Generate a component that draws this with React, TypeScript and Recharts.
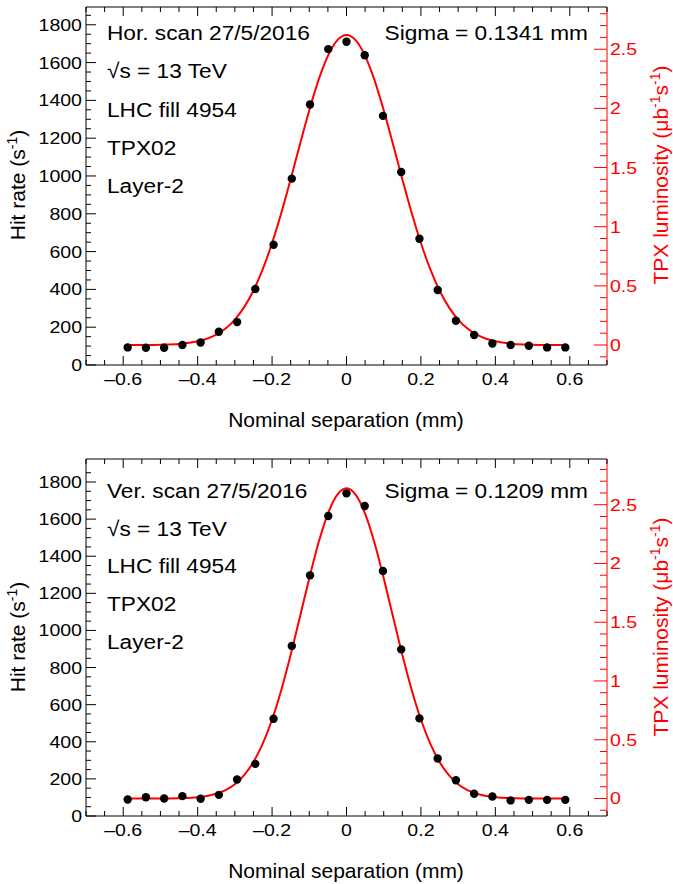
import React from "react";
import { ComposedChart, Line, Scatter, XAxis, YAxis } from "recharts";

// scan positions (mm) and measured hit rates (s^-1)
const SEPARATION = [-0.588, -0.539, -0.49, -0.441, -0.392, -0.343, -0.294, -0.245, -0.196, -0.147, -0.098, -0.049, 0, 0.049, 0.098, 0.147, 0.196, 0.245, 0.294, 0.343, 0.392, 0.441, 0.49, 0.539, 0.588];
const HOR_RATE = [93, 91, 91, 106, 119, 176, 227, 402, 636, 986, 1378, 1671, 1710, 1639, 1318, 1021, 668, 397, 234, 159, 114, 106, 102, 93, 93];
const VER_RATE = [89, 101, 94, 107, 93, 114, 197, 281, 524, 916, 1297, 1617, 1739, 1671, 1320, 898, 526, 310, 193, 120, 105, 84, 87, 87, 87];

// fitted luminosity curve (ub^-1 s^-1)
const FIT_X = [-0.588, -0.55, -0.5, -0.45, -0.4, -0.375, -0.35, -0.325, -0.3, -0.275, -0.25, -0.225, -0.2, -0.175, -0.15, -0.125, -0.1, -0.075, -0.05, -0.025, 0, 0.025, 0.05, 0.075, 0.1, 0.125, 0.15, 0.175, 0.2, 0.225, 0.25, 0.275, 0.3, 0.325, 0.35, 0.375, 0.4, 0.45, 0.5, 0.55, 0.588];
const HOR_FIT = [0, 0, 0.003, 0.009, 0.031, 0.053, 0.087, 0.139, 0.215, 0.32, 0.461, 0.641, 0.862, 1.118, 1.402, 1.697, 1.984, 2.241, 2.444, 2.575, 2.62, 2.575, 2.444, 2.241, 1.984, 1.697, 1.402, 1.118, 0.862, 0.641, 0.461, 0.32, 0.215, 0.139, 0.087, 0.053, 0.031, 0.009, 0.003, 0, 0];
const VER_FIT = [0, 0, 0, 0.003, 0.011, 0.022, 0.04, 0.071, 0.121, 0.199, 0.311, 0.467, 0.672, 0.926, 1.223, 1.547, 1.875, 2.178, 2.424, 2.584, 2.64, 2.584, 2.424, 2.178, 1.875, 1.547, 1.223, 0.926, 0.672, 0.467, 0.311, 0.199, 0.121, 0.071, 0.04, 0.022, 0.011, 0.003, 0, 0, 0];

const X_LABELS = [-0.6, -0.4, -0.2, 0, 0.2, 0.4, 0.6];
const LEFT_LABELS = [0, 200, 400, 600, 800, 1000, 1200, 1400, 1600, 1800];
const RIGHT_LABELS = [0, 0.5, 1, 1.5, 2, 2.5];

const FONT = "'Liberation Sans', Arial, Helvetica, sans-serif";
const RED = "#ff0000";

function range(from: number, to: number, step: number) {
  const out: number[] = [];
  for (let v = from; v <= to + 1e-9; v += step) out.push(Math.round(v * 1000) / 1000);
  return out;
}

const X_TICKS = range(-0.7, 0.7, 0.05);
const LEFT_TICKS = range(0, 1850, 50);

const isIn = (list: number[], v: number) => list.some((m) => Math.abs(m - v) < 1e-6);

function xLabel(v: number) {
  if (Math.abs(v) < 1e-9) return "0";
  return (v < 0 ? "\u2013" : "") + Math.abs(v).toFixed(1);
}

function T({ x, y, size, sx = 1, rotate = 0, anchor = "start", fill = "#000", children }: any) {
  return (
    <g transform={`translate(${x},${y}) rotate(${rotate}) scale(${sx},1)`}>
      <text x={0} y={0} fontSize={size} textAnchor={anchor} fill={fill} fontFamily={FONT}>
        {children}
      </text>
    </g>
  );
}

function BottomTick({ x, y, payload }: any) {
  const v = payload.value;
  const major = isIn(X_LABELS, v);
  return (
    <g>
      <line x1={x} x2={x} y1={y} y2={y - (major ? 9 : 5)} stroke="#000" />
      {major && <T x={x} y={y + 20} size={17} sx={1.15} anchor="middle">{xLabel(v)}</T>}
    </g>
  );
}

function TopTick({ x, y, payload }: any) {
  const major = isIn(X_LABELS, payload.value);
  return <line x1={x} x2={x} y1={y} y2={y + (major ? 9 : 5)} stroke="#000" />;
}

function LeftTick({ x, y, payload }: any) {
  const v = payload.value;
  const major = isIn(LEFT_LABELS, v);
  return (
    <g>
      <line x1={x} x2={x + (major ? 10 : 5)} y1={y} y2={y} stroke="#000" />
      {major && <T x={x - 4} y={y + 6} size={17} sx={1.15} anchor="end">{String(v)}</T>}
    </g>
  );
}

function RightTick({ x, y, payload }: any) {
  const v = payload.value;
  const major = isIn(RIGHT_LABELS, v);
  return (
    <g>
      <line x1={x} x2={x - (major ? 13 : 7)} y1={y} y2={y} stroke={RED} />
      {major && <T x={x + 3} y={y + 6} size={17} sx={1.15} fill={RED}>{String(v)}</T>}
    </g>
  );
}

const Dot = (props: any) => <circle cx={props.cx} cy={props.cy} r={4.2} fill="#000" />;

function Panel({ top, rate, fit, leftMax, rightDomain, rightTicks, margin, title, sigma, textY, xTitleY, yTitleY, rTitleY }: any) {
  const points = SEPARATION.map((x, i) => ({ x, y: rate[i] }));
  const curve = FIT_X.map((x, i) => ({ x, lum: fit[i] }));
  const lines = [title, null, "LHC fill 4954", "TPX02", "Layer-2"];
  return (
    <div style={{ position: "absolute", left: 0, top, width: 673, height: 442 }}>
      <ComposedChart width={673} height={442} margin={margin}>
        <XAxis xAxisId="top" orientation="top" type="number" dataKey="x" domain={[-0.7, 0.7]} allowDataOverflow
          ticks={X_TICKS} interval={0} tickSize={0} tickMargin={0} height={1} tick={<TopTick />} tickLine={false}
          axisLine={{ stroke: "#000" }} />
        <XAxis type="number" dataKey="x" domain={[-0.7, 0.7]} allowDataOverflow ticks={X_TICKS} interval={0}
          tickSize={0} tickMargin={0} height={30} tick={<BottomTick />} tickLine={false} axisLine={{ stroke: "#000" }} />
        <YAxis yAxisId="left" type="number" domain={[0, leftMax]} allowDataOverflow ticks={LEFT_TICKS} interval={0}
          tickSize={0} tickMargin={0} width={60} tick={<LeftTick />} tickLine={false} axisLine={{ stroke: "#000" }} />
        <YAxis yAxisId="right" orientation="right" type="number" domain={rightDomain} allowDataOverflow ticks={rightTicks}
          interval={0} tickSize={0} tickMargin={0} width={50} tick={<RightTick />} tickLine={false} axisLine={{ stroke: RED }} />
        <Line yAxisId="right" data={curve} dataKey="lum" type="monotone" stroke={RED} strokeWidth={2} dot={false}
          isAnimationActive={false} />
        <Scatter yAxisId="left" data={points} dataKey="y" shape={<Dot />} isAnimationActive={false} />
      </ComposedChart>
      <svg width={673} height={442} style={{ position: "absolute", left: 0, top: 0, pointerEvents: "none" }}>
        {lines.map((s, i) =>
          s ? (
            <T key={i} x={107} y={textY[i]} size={21} sx={1.08}>{s}</T>
          ) : (
            <T key={i} x={107} y={textY[i]} size={21} sx={1.08}>{"\u221As = 13 TeV"}</T>
          )
        )}
        <T x={588} y={textY[0]} size={21} sx={1.08} anchor="end">{sigma}</T>
        <T x={346} y={xTitleY} size={21} anchor="middle">Nominal separation (mm)</T>
        <T x={25} y={yTitleY} size={21} rotate={-90} anchor="middle">
          Hit rate (s<tspan dy={-8} fontSize={14}>-1</tspan><tspan dy={8}>)</tspan>
        </T>
        <T x={668} y={rTitleY} size={21} rotate={-90} anchor="middle" fill={RED}>
          TPX luminosity ({"\u03BC"}b<tspan dy={-8} fontSize={14}>-1</tspan><tspan dy={8}>s</tspan>
          <tspan dy={-8} fontSize={14}>-1</tspan><tspan dy={8}>)</tspan>
        </T>
      </svg>
    </div>
  );
}

export default function App() {
  return (
    <div style={{ position: "absolute", left: 0, top: 0, width: 673, height: 884, background: "#fff" }}>
      <Panel top={0} rate={HOR_RATE} fit={HOR_FIT} leftMax={1894} rightDomain={[-0.169, 2.857]}
        rightTicks={range(-0.1, 2.8, 0.1)} margin={{ top: 6, right: 16, bottom: 47, left: 26 }}
        title="Hor. scan 27/5/2016" sigma="Sigma = 0.1341 mm" textY={[40, 78, 117, 155, 193]}
        xTitleY={427} yTitleY={185} rTitleY={175} />
      <Panel top={442} rate={VER_RATE} fit={VER_FIT} leftMax={1924} rightDomain={[-0.149, 2.889]}
        rightTicks={range(-0.1, 2.8, 0.1)} margin={{ top: 16, right: 16, bottom: 38, left: 26 }}
        title="Ver. scan 27/5/2016" sigma="Sigma = 0.1209 mm" textY={[56, 94, 131, 169, 207]}
        xTitleY={436} yTitleY={195} rTitleY={185} />
    </div>
  );
}
